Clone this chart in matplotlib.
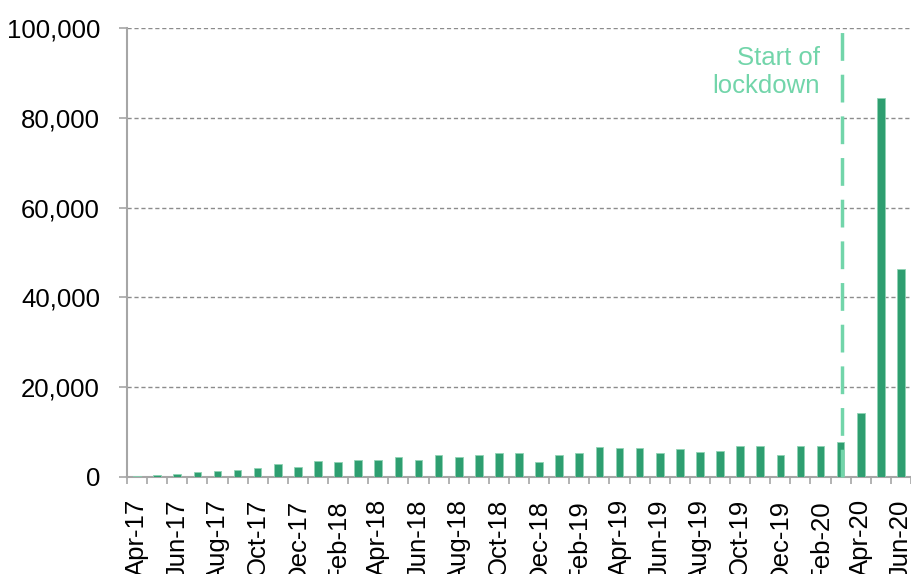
import numpy as np
import matplotlib.pyplot as plt

plt.rcParams['font.family'] = ['Liberation Sans', 'DejaVu Sans']

months = ["Apr-17", "May-17", "Jun-17", "Jul-17", "Aug-17", "Sep-17", "Oct-17", "Nov-17",
          "Dec-17", "Jan-18", "Feb-18", "Mar-18", "Apr-18", "May-18", "Jun-18", "Jul-18",
          "Aug-18", "Sep-18", "Oct-18", "Nov-18", "Dec-18", "Jan-19", "Feb-19", "Mar-19",
          "Apr-19", "May-19", "Jun-19", "Jul-19", "Aug-19", "Sep-19", "Oct-19", "Nov-19",
          "Dec-19", "Jan-20", "Feb-20", "Mar-20", "Apr-20", "May-20", "Jun-20"]
values = [220, 450, 670, 1200, 1340, 1560, 2000, 2820, 2150, 3560, 3340, 3790, 3790,
          4530, 3790, 4830, 4530, 4900, 5420, 5420, 3420, 4830, 5350, 6680, 6460, 6460,
          5350, 6160, 5570, 5870, 6980, 6830, 4830, 6830, 6830, 7720, 14250, 84400, 46300]
yticks = [0, 20000, 40000, 60000, 80000, 100000]
lockdown_x = 35.08

bar_col = "#2e9e70"
lock_col = "#72d5aa"

fig = plt.figure(figsize=(9.12, 5.74), dpi=100)
ax = fig.add_axes([127 / 912, 97 / 574, 784 / 912, 449 / 574])

x = np.arange(len(months))
ax.bar(x, values, width=0.38, color=bar_col, edgecolor="#8fd3b4", linewidth=0.6, zorder=3)

ax.set_xlim(-0.5, len(months) - 0.5)
ax.set_ylim(0, 100000)
ax.set_yticks(yticks)
ax.set_yticklabels([f"{v:,}" for v in yticks], fontsize=18.5)
ax.yaxis.grid(True, linestyle=(0, (3, 2)), color="#8c8c8c", linewidth=1)
ax.set_axisbelow(True)

ax.set_xticks(x[::2])
ax.set_xticklabels(months[::2], rotation=90, fontsize=18.5)
ax.set_xticks(np.arange(-0.5, len(months) + 0.5, 1), minor=True)
ax.tick_params(axis="x", which="major", length=0, pad=16)
ax.tick_params(axis="x", which="minor", length=5, color="#a6a6a6", width=1.2)
ax.tick_params(axis="y", length=6, color="#a6a6a6", width=1.2, pad=13.5)

for s in ["top", "right"]:
    ax.spines[s].set_visible(False)
for s in ["left", "bottom"]:
    ax.spines[s].set_color("#a6a6a6")
    ax.spines[s].set_linewidth(1.5)

ax.plot([lockdown_x, lockdown_x], [0, 101000], color=lock_col, linewidth=2.5,
        linestyle=(0, (8, 4)), clip_on=False, zorder=4)
ax.text(lockdown_x - 1.1, 96000, "Start of\nlockdown", color=lock_col, fontsize=18.5,
        ha="right", va="top", linespacing=1.2)

fig.savefig("out.png", dpi=100)
